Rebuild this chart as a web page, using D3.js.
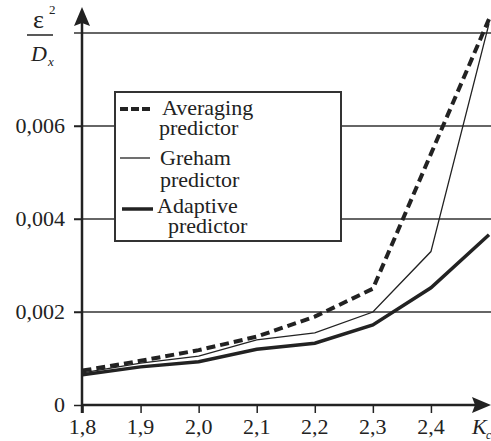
<!DOCTYPE html>
<html>
<head>
<meta charset="utf-8">
<script src="https://cdn.jsdelivr.net/npm/d3@7"></script>
</head>
<body style="margin:0">
<div id="chart"></div>
<script>
// Data
var kc = [1.8, 1.9, 2.0, 2.1, 2.2, 2.3, 2.4, 2.5];
var averaging = [0.00074, 0.00095, 0.00118, 0.00147, 0.0019, 0.0025, 0.0054, 0.0083];
var greham = [0.00069, 0.0009, 0.00105, 0.0014, 0.00155, 0.002, 0.0033, 0.0082];
var adaptive = [0.00065, 0.00082, 0.00093, 0.0012, 0.00133, 0.00172, 0.00252, 0.00366];
var xTicks = [1.8, 1.9, 2.0, 2.1, 2.2, 2.3, 2.4];
var yTicks = [0, 0.002, 0.004, 0.006];
var gridValues = [0.002, 0.004, 0.006, 0.008];

var width = 491, height = 441;
var ink = "#222";

var svg = d3.select("#chart")
    .append("svg")
    .attr("width", width)
    .attr("height", height);

// helper for text in the serif face
function label(g, x0, y0, size, txt, italic) {
    var t = g.append("text")
        .attr("x", x0).attr("y", y0)
        .style("font-family", "'Liberation Serif'")
        .style("font-size", size + "px")
        .attr("fill", ink)
        .text(txt);
    if (italic) t.style("font-style", "italic");
    return t;
}

// Scales
var x = d3.scaleLinear().domain([1.8, 2.5]).range([82.5, 489]);
var y = d3.scaleLinear().domain([0, 0.008]).range([405, 33]);

var fmtY = function (v) { return v === 0 ? "0" : d3.format(".3f")(v).replace(".", ","); };
var fmtX = function (v) { return d3.format(".1f")(v).replace(".", ","); };

// Grid lines
svg.selectAll(".grid")
    .data(gridValues)
    .enter()
    .append("line")
    .attr("x1", 74)
    .attr("x2", width)
    .attr("y1", function (d) { return y(d); })
    .attr("y2", function (d) { return y(d); })
    .attr("stroke", "#333")
    .attr("stroke-width", 1.5);

// Y axis ticks
var yAxis = svg.append("g")
    .attr("transform", "translate(82,0)")
    .call(d3.axisLeft(y).tickValues(yTicks).tickFormat("").tickSize(8));
yAxis.select(".domain").remove();
yAxis.selectAll(".tick line").attr("stroke", ink).attr("stroke-width", 1.5);

yTicks.forEach(function (v) {
    label(svg, 65, y(v) + 7, 22, fmtY(v), false).attr("text-anchor", "end");
});

// X axis ticks
var xAxis = svg.append("g")
    .attr("transform", "translate(0,405)")
    .call(d3.axisBottom(x).tickValues(xTicks).tickFormat("").tickSize(8));
xAxis.select(".domain").remove();
xAxis.selectAll(".tick line").attr("stroke", ink).attr("stroke-width", 1.5);

xTicks.forEach(function (v) {
    label(svg, x(v), 434, 22, fmtX(v), false).attr("text-anchor", "middle");
});

// Axis lines with arrows
svg.append("line")
    .attr("x1", 82).attr("x2", 82)
    .attr("y1", 413).attr("y2", 20)
    .attr("stroke", ink).attr("stroke-width", 2.5);
svg.append("path")
    .attr("d", "M82,7 L90,26 L82,23 L74,26 Z")
    .attr("fill", ink);
svg.append("line")
    .attr("x1", 82).attr("x2", 478)
    .attr("y1", 405).attr("y2", 405)
    .attr("stroke", ink).attr("stroke-width", 2.5);
svg.append("path")
    .attr("d", "M491,405 L472,413 L475,405 L472,397 Z")
    .attr("fill", ink);

// Axis titles
label(svg, 472, 434, 22, "K", true);
label(svg, 486, 439, 12, "c", true);

label(svg, 33, 28, 26, "ε", false);
label(svg, 49, 14, 13, "2", false);
svg.append("line")
    .attr("x1", 27).attr("x2", 53)
    .attr("y1", 35).attr("y2", 35)
    .attr("stroke", ink).attr("stroke-width", 1.5);
label(svg, 31, 61, 22, "D", true);
label(svg, 48, 66, 13, "x", true);

// Series lines
var series = [
    { name: "Averaging", values: averaging, width: 4, dash: "9,5" },
    { name: "Greham", values: greham, width: 1.3, dash: null },
    { name: "Adaptive", values: adaptive, width: 3.5, dash: null }
];

var line = d3.line()
    .x(function (d, i) { return x(kc[i]); })
    .y(function (d) { return y(d); });

svg.selectAll(".series")
    .data(series)
    .enter()
    .append("path")
    .attr("d", function (d) { return line(d.values); })
    .attr("fill", "none")
    .attr("stroke", ink)
    .attr("stroke-width", function (d) { return d.width; })
    .attr("stroke-dasharray", function (d) { return d.dash; });

// Legend
var legend = svg.append("g");
legend.append("rect")
    .attr("x", 115).attr("y", 92)
    .attr("width", 226).attr("height", 149)
    .attr("fill", "#fff")
    .attr("stroke", "#333")
    .attr("stroke-width", 2);

var legendRows = [
    { sy: 109, x1: 120, x2: 151, tx: 162, ty: 115, px: 159, py: 135 },
    { sy: 158, x1: 120, x2: 150, tx: 160, ty: 165, px: 160, py: 187 },
    { sy: 209, x1: 122, x2: 153, tx: 157, ty: 213, px: 168, py: 233 }
];

legendRows.forEach(function (r, i) {
    legend.append("line")
        .attr("x1", r.x1).attr("x2", r.x2)
        .attr("y1", r.sy).attr("y2", r.sy)
        .attr("stroke", ink)
        .attr("stroke-width", series[i].width)
        .attr("stroke-dasharray", i === 0 ? "8,3" : null);
    label(legend, r.tx, r.ty, 22, series[i].name, false);
    label(legend, r.px, r.py, 22, "predictor", false);
});
</script>
</body>
</html>
